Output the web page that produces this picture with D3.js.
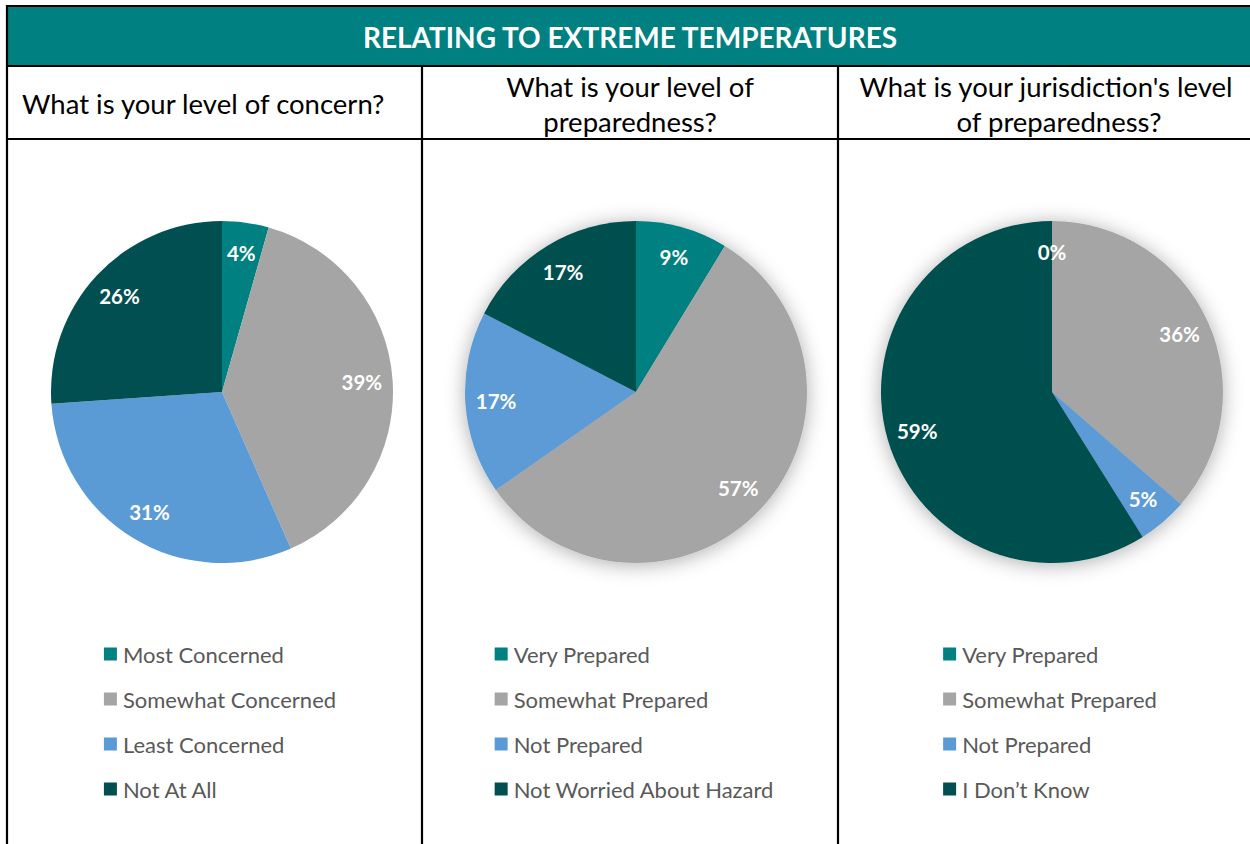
<!DOCTYPE html>
<html><head><meta charset="utf-8">
<script src="https://cdn.jsdelivr.net/npm/d3@7"></script>
<style>body{margin:0;background:#fff} svg{display:block}</style>
</head><body><svg id="c" width="1250" height="844"></svg>
<script>
// ---- data ----
const title = "RELATING TO EXTREME TEMPERATURES";
const questions = [
  ["What is your level of concern?"],
  ["What is your level of", "preparedness?"],
  ["What is your jurisdiction's level", "of preparedness?"]
];
const concernCategories = ["Most Concerned", "Somewhat Concerned", "Least Concerned", "Not At All"];
const concernValues = [4.4, 39.0, 30.5, 26.1];
const personalCategories = ["Very Prepared", "Somewhat Prepared", "Not Prepared", "Not Worried About Hazard"];
const personalValues = [8.7, 56.6, 17.3, 17.4];
const jurisdictionCategories = ["Very Prepared", "Somewhat Prepared", "Not Prepared", "I Don’t Know"];
const jurisdictionValues = [0, 36.4, 4.7, 58.9];
const sliceColors = ["#008080", "#A5A5A5", "#5B9BD5", "#014F50"];

// ---- layout ----
const W = 1250, H = 844;
const svg = d3.select("#c");
const font = "Lato, 'Open Sans', sans-serif";
const panels = [
  {x0: 8, cats: concernCategories, vals: concernValues, shadow: false, q: questions[0], align: "left"},
  {x0: 422, cats: personalCategories, vals: personalValues, shadow: true, q: questions[1], align: "center"},
  {x0: 838, cats: jurisdictionCategories, vals: jurisdictionValues, shadow: true, q: questions[2], align: "center"}
];

const defs = svg.append("defs");
const f = defs.append("filter").attr("id", "shadow").attr("x", "-25%").attr("y", "-25%").attr("width", "150%").attr("height", "150%");
f.append("feDropShadow").attr("dx", 0).attr("dy", 2).attr("stdDeviation", 10)
  .attr("flood-color", "#000").attr("flood-opacity", 0.32);

// header band
svg.append("rect").attr("x", 7).attr("y", 6).attr("width", W - 7).attr("height", 60).attr("fill", "#008080");
svg.append("text").attr("x", 630).attr("y", 37).attr("text-anchor", "middle").attr("dominant-baseline", "central")
  .attr("font-family", font).attr("font-weight", 700).attr("font-size", 28).attr("fill", "#fff").text(title);

// grid lines
const line = (x1, y1, x2, y2) => svg.append("line").attr("x1", x1).attr("y1", y1).attr("x2", x2).attr("y2", y2)
  .attr("stroke", "#000").attr("stroke-width", 2.2);
line(7, 6, W, 6);
line(7, 66, W, 66);
line(7, 139, W, 139);
line(7, 5, 7, H);
line(422, 66, 422, H);
line(838, 66, 838, H);

const pie = d3.pie().sort(null).value(d => d);
const R = 171;
const arc = d3.arc().innerRadius(0).outerRadius(R);
const lblArc = d3.arc().innerRadius(R * 0.82).outerRadius(R * 0.82);
const cy = 392;
const qLineCenters = [[103], [86, 121], [86, 121]];
const qXs = [[22], [630], [1046, 1059]];

panels.forEach((p, i) => {
  const cx = p.x0 + 214;
  // question
  p.q.forEach((t, j) => {
    const x = qXs[i][j] !== undefined ? qXs[i][j] : qXs[i][0];
    svg.append("text").attr("x", x).attr("y", qLineCenters[i][j])
      .attr("text-anchor", p.align === "left" ? "start" : "middle").attr("dominant-baseline", "central")
      .attr("font-family", font).attr("font-size", 27.5).attr("fill", "#000").text(t);
  });
  // pie
  const g = svg.append("g").attr("transform", `translate(${cx},${cy})`);
  const arcs = pie(p.vals);
  const sg = g.append("g").attr("filter", p.shadow ? "url(#shadow)" : null);
  sg.selectAll("path").data(arcs).enter().append("path")
    .attr("d", arc).attr("fill", (d, k) => sliceColors[k]);
  g.selectAll("text").data(arcs).enter().append("text")
    .attr("transform", d => `translate(${lblArc.centroid(d)})`)
    .attr("text-anchor", "middle").attr("dominant-baseline", "central")
    .attr("font-family", font).attr("font-weight", 700).attr("font-size", 20.5).attr("fill", "#fff")
    .text(d => Math.round(d.data) + "%");
  // legend
  const lg = svg.append("g");
  const items = lg.selectAll("g").data(p.cats).enter().append("g")
    .attr("transform", (d, k) => `translate(0,${654 + k * 45})`);
  items.append("rect").attr("x", 0).attr("y", -6.5).attr("width", 13).attr("height", 13).attr("fill", (d, k) => sliceColors[k]);
  items.append("text").attr("x", 19).attr("y", 0).attr("dominant-baseline", "central")
    .attr("font-family", font).attr("font-size", 22).attr("fill", "#595959").text(d => d);
  const bw = lg.node().getBBox().width;
  lg.attr("transform", `translate(${cx - 2 - bw / 2},0)`);
});
</script></body></html>
